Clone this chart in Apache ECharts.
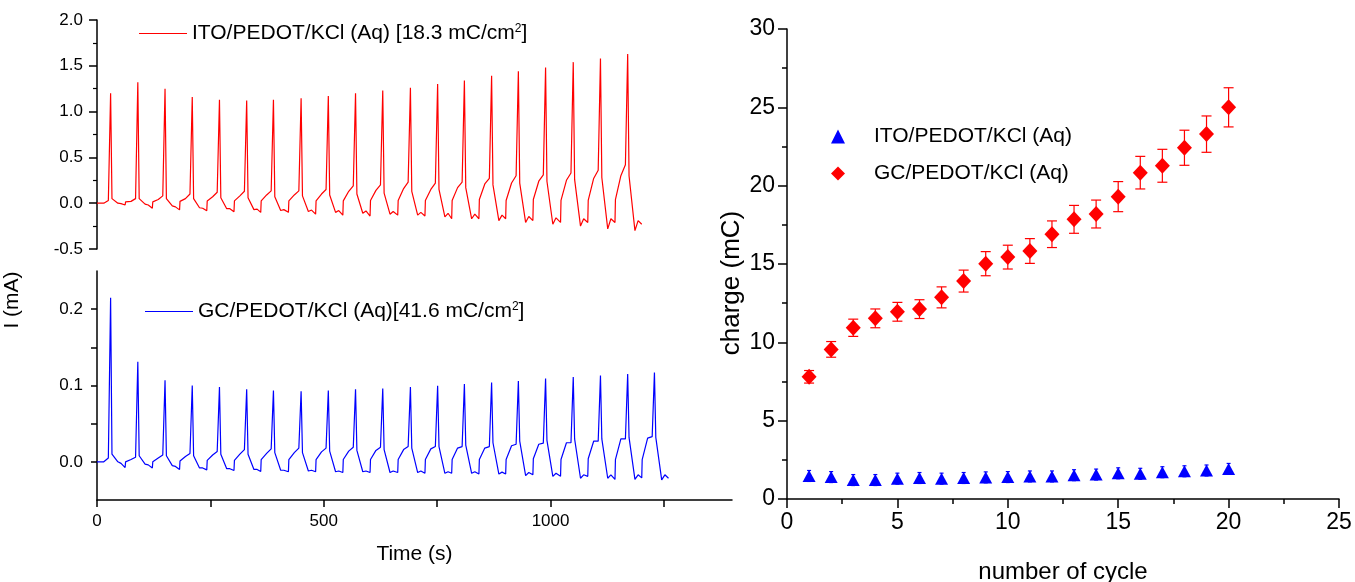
<!DOCTYPE html>
<html>
<head>
<meta charset="utf-8">
<script src="https://cdn.jsdelivr.net/npm/echarts@6/dist/echarts.min.js"></script>
<style>
  html, body { margin: 0; padding: 0; background: #fff; }
  #chart { width: 1355px; height: 582px; }
</style>
</head>
<body>
<div id="chart"></div>
<script>
// ---- left panel: current traces, read per cycle from the picture ----
// peak times (s)
const redPeakT = [30, 90, 150, 210, 270, 330, 389, 450, 510, 570, 630, 691, 751, 810, 870, 929, 989, 1050, 1110, 1170];
const redPeak = [1.20, 1.32, 1.25, 1.16, 1.13, 1.12, 1.13, 1.145, 1.17, 1.20, 1.23, 1.26, 1.30, 1.34, 1.39, 1.44, 1.48, 1.54, 1.58, 1.63];
const redStep = [0, 0.015, 0.015, 0.02, 0.025, 0.025, 0.025, 0.025, 0.025, 0.025, 0.03, 0.03, 0.03, 0.03, 0.04, 0.03, 0.04, 0.03, 0.03, 0.04];
const redRise = [0.0, 0.02, 0.04, 0.05, 0.07, 0.08, 0.09, 0.09, 0.10, 0.13, 0.14, 0.16, 0.15, 0.17, 0.21, 0.22, 0.24, 0.25, 0.27, 0.30];
const redPre = [0.03, 0.05, 0.08, 0.10, 0.12, 0.13, 0.134, 0.134, 0.15, 0.19, 0.20, 0.23, 0.22, 0.23, 0.27, 0.30, 0.31, 0.33, 0.36, 0.42];
const redPost = [0.05, 0.05, 0.05, 0.05, 0.06, 0.06, 0.07, 0.08, 0.09, 0.10, 0.11, 0.13, 0.15, 0.17, 0.20, 0.22, 0.24, 0.26, 0.28, 0.30];
const redTrough = [0.0, -0.01, -0.03, -0.05, -0.06, -0.07, -0.08, -0.09, -0.10, -0.11, -0.12, -0.13, -0.15, -0.17, -0.19, -0.21, -0.23, -0.25, -0.28, -0.30];
const redBump = [-0.005, -0.02, -0.04, -0.055, -0.06, -0.065, -0.07, -0.075, -0.08, -0.085, -0.09, -0.10, -0.11, -0.12, -0.13, -0.145, -0.16, -0.17, -0.17, -0.19];
const redDip = [-0.02, -0.055, -0.073, -0.083, -0.094, -0.10, -0.10, -0.12, -0.13, -0.14, -0.13, -0.14, -0.17, -0.17, -0.17, -0.19, -0.21, -0.21, -0.21, -0.23];

const bluePeakT = [30, 90, 150, 210, 270, 330, 389, 450, 510, 570, 630, 691, 751, 810, 870, 929, 989, 1050, 1110, 1170, 1229];
const bluePeak = [0.215, 0.131, 0.107, 0.100, 0.098, 0.095, 0.0934, 0.0925, 0.0934, 0.095, 0.096, 0.098, 0.0995, 0.102, 0.104, 0.106, 0.109, 0.111, 0.113, 0.115, 0.117];
const blueStep = [0, 0.0, 0.0, 0.001, 0.002, 0.002, 0.003, 0.003, 0.003, 0.003, 0.003, 0.003, 0.003, 0.003, 0.003, 0.003, 0.004, 0.003, 0.004, 0.003, 0.003];
const blueRise = [0.0, 0.003, 0.005, 0.007, 0.009, 0.010, 0.011, 0.012, 0.013, 0.014, 0.015, 0.016, 0.017, 0.018, 0.018, 0.021, 0.023, 0.025, 0.027, 0.030, 0.031];
const bluePre = [0.005, 0.006, 0.009, 0.011, 0.0135, 0.016, 0.017, 0.018, 0.018, 0.019, 0.019, 0.020, 0.020, 0.020, 0.020, 0.023, 0.0245, 0.025, 0.027, 0.030, 0.033];
const bluePost = [0.010, 0.008, 0.008, 0.008, 0.010, 0.010, 0.012, 0.012, 0.014, 0.015, 0.016, 0.018, 0.020, 0.022, 0.025, 0.027, 0.028, 0.030, 0.030, 0.032, 0.032];
const blueTrough = [0.0, -0.003, -0.005, -0.008, -0.009, -0.010, -0.011, -0.012, -0.013, -0.013, -0.014, -0.014, -0.015, -0.015, -0.016, -0.018, -0.019, -0.0215, -0.0215, -0.023, -0.0237];
const blueBump = [-0.002, -0.004, -0.006, -0.008, -0.009, -0.010, -0.011, -0.011, -0.012, -0.012, -0.012, -0.012, -0.013, -0.013, -0.0135, -0.014, -0.015, -0.017, -0.017, -0.017, -0.017];
const blueDip = [-0.0075, -0.008, -0.010, -0.0105, -0.0114, -0.0127, -0.013, -0.013, -0.014, -0.014, -0.014, -0.015, -0.015, -0.016, -0.016, -0.017, -0.019, -0.019, -0.023, -0.021, -0.0215];

// ---- right panel: charge vs cycle ----
const cycles = [1, 2, 3, 4, 5, 6, 7, 8, 9, 10, 11, 12, 13, 14, 15, 16, 17, 18, 19, 20];
const itoCharge = [1.47, 1.40, 1.21, 1.21, 1.30, 1.34, 1.30, 1.34, 1.38, 1.40, 1.44, 1.44, 1.52, 1.56, 1.64, 1.61, 1.71, 1.77, 1.82, 1.92];
const itoErr = [0.35, 0.35, 0.35, 0.35, 0.35, 0.35, 0.35, 0.35, 0.35, 0.35, 0.35, 0.35, 0.35, 0.35, 0.35, 0.35, 0.35, 0.35, 0.35, 0.35];
const gcCharge = [7.8, 9.55, 10.93, 11.53, 11.95, 12.12, 12.87, 13.91, 15.02, 15.44, 15.83, 16.9, 17.85, 18.19, 19.3, 20.83, 21.27, 22.42, 23.29, 25.0];
const gcErr = [0.4, 0.5, 0.55, 0.6, 0.6, 0.6, 0.67, 0.7, 0.77, 0.76, 0.79, 0.85, 0.89, 0.89, 0.96, 1.04, 1.05, 1.12, 1.16, 1.25];

const FONT = "Arial, 'Liberation Sans', sans-serif";

// one point per key spot of every cycle (step, rise, shoulder, peak, decay, trough, bump, dip)
function buildTrace(peakT, peak, step, rise, pre, post, trough, bump, dip) {
  const pts = [[0, 0]];
  for (let k = 0; k < peakT.length; k++) {
    const tp = peakT[k];
    if (k > 0) {
      pts.push([tp - 28, dip[k - 1]]);
      pts.push([tp - 27, step[k]]);
    }
    pts.push([tp - 15, rise[k]]);
    pts.push([tp - 5, pre[k]]);
    pts.push([tp, peak[k]]);
    pts.push([tp + 3, post[k]]);
    pts.push([tp + 16, trough[k]]);
    pts.push([tp + 23, bump[k]]);
  }
  const n = peakT.length;
  pts.push([peakT[n - 1] + 31, dip[n - 1]]);
  return pts;
}

const redData = buildTrace(redPeakT, redPeak, redStep, redRise, redPre, redPost, redTrough, redBump, redDip);
const blueData = buildTrace(bluePeakT, bluePeak, blueStep, blueRise, bluePre, bluePost, blueTrough, blueBump, blueDip);

function errorBars(color, cap) {
  return function (params, api) {
    const x = api.value(0), y = api.value(1), e = api.value(2);
    const top = api.coord([x, y + e]);
    const bot = api.coord([x, y - e]);
    const st = { stroke: color, lineWidth: 1.2 };
    return {
      type: "group",
      children: [
        { type: "line", shape: { x1: top[0], y1: top[1], x2: bot[0], y2: bot[1] }, style: st },
        { type: "line", shape: { x1: top[0] - cap, y1: top[1], x2: top[0] + cap, y2: top[1] }, style: st },
        { type: "line", shape: { x1: bot[0] - cap, y1: bot[1], x2: bot[0] + cap, y2: bot[1] }, style: st },
      ],
    };
  };
}

const axisLine = { show: true, onZero: false, lineStyle: { color: "#000", width: 1.5 } };
const labelBase = { color: "#000", fontFamily: FONT };

let chart = echarts.init(document.getElementById("chart"));
let option = {
  animation: false,
  textStyle: { fontFamily: FONT, color: "#000" },
  grid: [
    { left: 97, top: 20, width: 635, height: 229, outerBoundsMode: "none" },
    { left: 97, top: 271, width: 635, height: 229, outerBoundsMode: "none" },
    { left: 787, top: 29, width: 552, height: 470, outerBoundsMode: "none" },
  ],
  legend: [
    {
      data: ["ITO/PEDOT/KCl (Aq) [18.3 mC/cm2]"],
      left: 139,
      top: 23,
      padding: 0,
      icon: "rect",
      itemWidth: 48,
      itemHeight: 1.2,
      formatter: function () {
        return "{a|ITO/PEDOT/KCl (Aq) [18.3 mC/cm}{s|2}{a|]}";
      },
      textStyle: {
        rich: {
          a: { fontSize: 21, fontFamily: FONT, color: "#000" },
          s: { fontSize: 12, fontFamily: FONT, color: "#000", padding: [0, 0, 9, 0] },
        },
      },
    },
    {
      data: ["GC/PEDOT/KCl (Aq)[41.6 mC/cm2]"],
      left: 145,
      top: 301,
      padding: 0,
      icon: "rect",
      itemWidth: 48,
      itemHeight: 1.2,
      formatter: function () {
        return "{a|GC/PEDOT/KCl (Aq)[41.6 mC/cm}{s|2}{a|]}";
      },
      textStyle: {
        rich: {
          a: { fontSize: 21, fontFamily: FONT, color: "#000" },
          s: { fontSize: 12, fontFamily: FONT, color: "#000", padding: [0, 0, 9, 0] },
        },
      },
    },
    {
      data: ["ITO/PEDOT/KCl (Aq)", "GC/PEDOT/KCl (Aq)"],
      orient: "vertical",
      left: 831,
      top: 126,
      padding: 0,
      itemWidth: 14,
      itemHeight: 14,
      itemGap: 16,
      textStyle: { fontSize: 21, fontFamily: FONT, color: "#000", padding: [0, 0, 0, 24] },
    },
  ],
  graphic: [
    {
      type: "text",
      x: 12,
      y: 300,
      rotation: Math.PI / 2,
      style: { text: "I (mA)", font: "21px " + FONT, fill: "#000", align: "center", verticalAlign: "middle" },
    },
    {
      type: "text",
      x: 732,
      y: 283,
      rotation: Math.PI / 2,
      style: { text: "charge (mC)", font: "26px " + FONT, fill: "#000", align: "center", verticalAlign: "middle" },
    },
  ],
  xAxis: [
    { gridIndex: 0, type: "value", min: 0, max: 1400, show: false },
    {
      gridIndex: 1,
      type: "value",
      min: 0,
      max: 1400,
      interval: 250,
      axisLine: axisLine,
      axisTick: { show: true, length: 7, lineStyle: { color: "#000", width: 1.5 }, customValues: [0, 250, 500, 750, 1000, 1250] },
      axisLabel: { ...labelBase, fontSize: 17, margin: 13, customValues: [0, 500, 1000], formatter: (v) => String(v) },
      splitLine: { show: false },
      name: "Time (s)",
      nameLocation: "middle",
      nameGap: 44,
      nameTextStyle: { fontSize: 21, fontFamily: FONT, color: "#000" },
    },
    {
      gridIndex: 2,
      type: "value",
      min: 0,
      max: 25,
      interval: 5,
      axisLine: axisLine,
      axisTick: { show: true, length: 9, lineStyle: { color: "#000", width: 1.5 } },
      minorTick: { show: true, splitNumber: 2, length: 5, lineStyle: { color: "#000", width: 1.5 } },
      axisLabel: { ...labelBase, fontSize: 23, margin: 12 },
      splitLine: { show: false },
      name: "number of cycle",
      nameLocation: "middle",
      nameGap: 61,
      nameTextStyle: { fontSize: 24, fontFamily: FONT, color: "#000" },
    },
  ],
  yAxis: [
    {
      gridIndex: 0,
      type: "value",
      min: -0.5,
      max: 2.0,
      interval: 0.5,
      axisLine: axisLine,
      axisTick: { show: true, length: 8, lineStyle: { color: "#000", width: 1.5 } },
      minorTick: { show: true, splitNumber: 2, length: 4, lineStyle: { color: "#000", width: 1.2 } },
      axisLabel: { ...labelBase, fontSize: 17, margin: 14, formatter: (v) => v.toFixed(1) },
      splitLine: { show: false },
    },
    {
      gridIndex: 1,
      type: "value",
      min: -0.05,
      max: 0.25,
      interval: 0.05,
      axisLine: axisLine,
      axisTick: { show: true, length: 6, lineStyle: { color: "#000", width: 1.5 }, customValues: [0, 0.05, 0.1, 0.15, 0.2] },
      axisLabel: { ...labelBase, fontSize: 17, margin: 14, customValues: [0, 0.1, 0.2], formatter: (v) => v.toFixed(1) },
      splitLine: { show: false },
    },
    {
      gridIndex: 2,
      type: "value",
      min: 0,
      max: 30,
      interval: 5,
      axisLine: axisLine,
      axisTick: { show: true, length: 9, lineStyle: { color: "#000", width: 1.5 } },
      minorTick: { show: true, splitNumber: 2, length: 5, lineStyle: { color: "#000", width: 1.5 } },
      axisLabel: { ...labelBase, fontSize: 23, margin: 12 },
      splitLine: { show: false },
    },
  ],
  series: [
    {
      name: "ITO/PEDOT/KCl (Aq) [18.3 mC/cm2]",
      type: "line",
      xAxisIndex: 0,
      yAxisIndex: 0,
      data: redData,
      symbol: "none",
      lineStyle: { color: "#ff0000", width: 1.2 },
      itemStyle: { color: "#ff0000" },
    },
    {
      name: "GC/PEDOT/KCl (Aq)[41.6 mC/cm2]",
      type: "line",
      xAxisIndex: 1,
      yAxisIndex: 1,
      data: blueData,
      symbol: "none",
      lineStyle: { color: "#0000ff", width: 1.2 },
      itemStyle: { color: "#0000ff" },
    },
    {
      name: "ito-err",
      type: "custom",
      xAxisIndex: 2,
      yAxisIndex: 2,
      renderItem: errorBars("#0000ff", 2),
      data: cycles.map((c, i) => [c, itoCharge[i], itoErr[i]]),
      z: 1,
    },
    {
      name: "gc-err",
      type: "custom",
      xAxisIndex: 2,
      yAxisIndex: 2,
      renderItem: errorBars("#ff0000", 5),
      data: cycles.map((c, i) => [c, gcCharge[i], gcErr[i]]),
      z: 1,
    },
    {
      name: "ITO/PEDOT/KCl (Aq)",
      type: "scatter",
      xAxisIndex: 2,
      yAxisIndex: 2,
      symbol: "triangle",
      symbolSize: [13, 12],
      itemStyle: { color: "#0000ff", opacity: 1 },
      data: cycles.map((c, i) => [c, itoCharge[i]]),
      z: 3,
    },
    {
      name: "GC/PEDOT/KCl (Aq)",
      type: "scatter",
      xAxisIndex: 2,
      yAxisIndex: 2,
      symbol: "diamond",
      symbolSize: [15, 16],
      itemStyle: { color: "#ff0000", opacity: 1 },
      data: cycles.map((c, i) => [c, gcCharge[i]]),
      z: 3,
    },
  ],
};
option && chart.setOption(option);
</script>
</body>
</html>
